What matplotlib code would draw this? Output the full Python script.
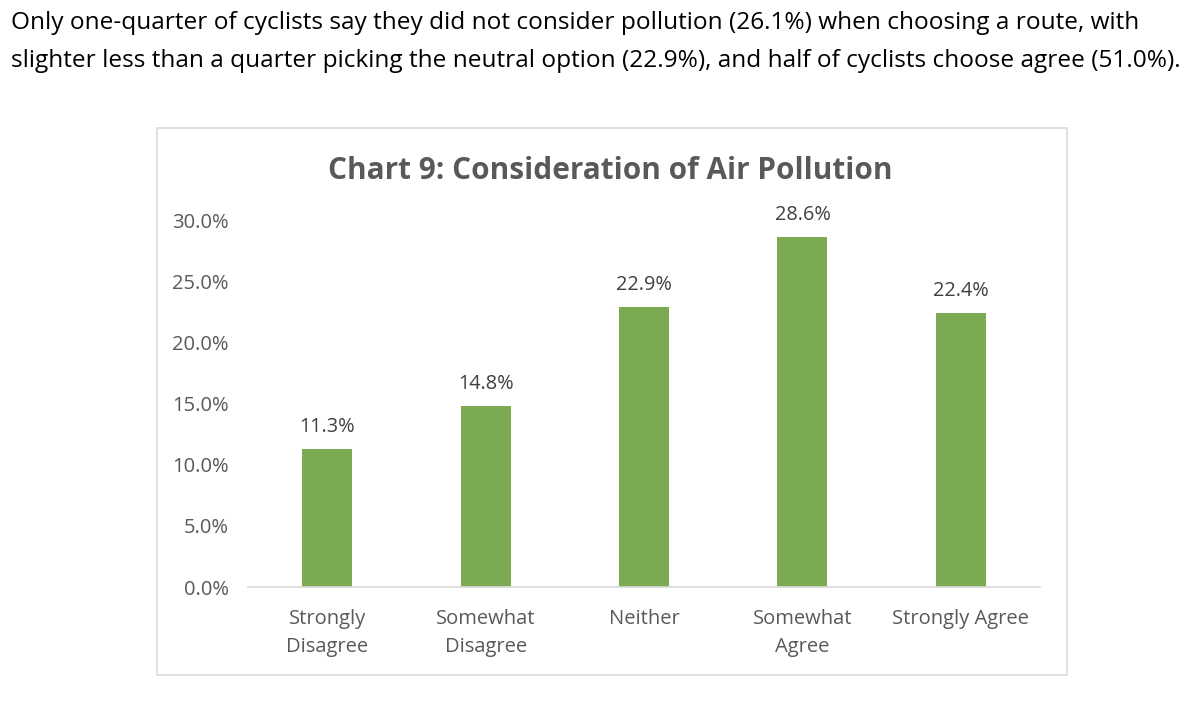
import matplotlib
matplotlib.use('Agg')
import matplotlib.pyplot as plt
from matplotlib.patches import Rectangle

categories = ['Strongly\nDisagree', 'Somewhat\nDisagree', 'Neither', 'Somewhat\nAgree', 'Strongly Agree']
values = [11.3, 14.8, 22.9, 28.6, 22.4]
yticks = [0, 5, 10, 15, 20, 25, 30]

plt.rcParams['font.family'] = ['Open Sans', 'DejaVu Sans']

fig = plt.figure(figsize=(12, 7.13), dpi=100)

# caption above the chart
fig.text(0.0095, 1 - 23 / 713, 'Only one-quarter of cyclists say they did not consider pollution (26.1%) when choosing a route, with',
         fontsize=17.6, color='black', va='center', ha='left')
fig.text(0.0095, 1 - 61 / 713, 'slighter less than a quarter picking the neutral option (22.9%), and half of cyclists choose agree (51.0%).',
         fontsize=17.6, color='black', va='center', ha='left')

# chart frame
fig.patches.append(Rectangle((157 / 1200, 1 - 675 / 713), 910 / 1200, 547 / 713,
                             transform=fig.transFigure, fill=False, edgecolor='#D9D9D9', linewidth=1.2))

ax = fig.add_axes([0.2067, 0.1767, 0.66, 0.5147])
x = range(len(categories))
bars = ax.bar(x, values, width=0.315, color='#7CAA52')
for xi, v in zip(x, values):
    ax.text(xi, v + 1.0, f'{v:.1f}%', ha='center', va='bottom', fontsize=14.3, color='#404040')

ax.set_xlim(-0.5, 4.5)
ax.set_ylim(0, 30)
ax.set_yticks(yticks)
ax.set_yticklabels([f'{t:.1f}%' for t in yticks])
ax.set_xticks(list(x))
ax.set_xticklabels(categories, linespacing=1.5)
ax.tick_params(axis='y', length=0, labelsize=14.5, labelcolor='#595959', pad=14)
ax.tick_params(axis='x', length=0, labelsize=14.5, labelcolor='#595959', pad=16)
for s in ['top', 'right', 'left']:
    ax.spines[s].set_visible(False)
ax.spines['bottom'].set_color('#D9D9D9')
ax.spines['bottom'].set_linewidth(1.2)

fig.text(610 / 1200, 1 - 171 / 713, 'Chart 9: Consideration of Air Pollution',
         fontsize=21.4, fontweight='bold', color='#595959', ha='center', va='center')

fig.savefig('out.png', dpi=100)
